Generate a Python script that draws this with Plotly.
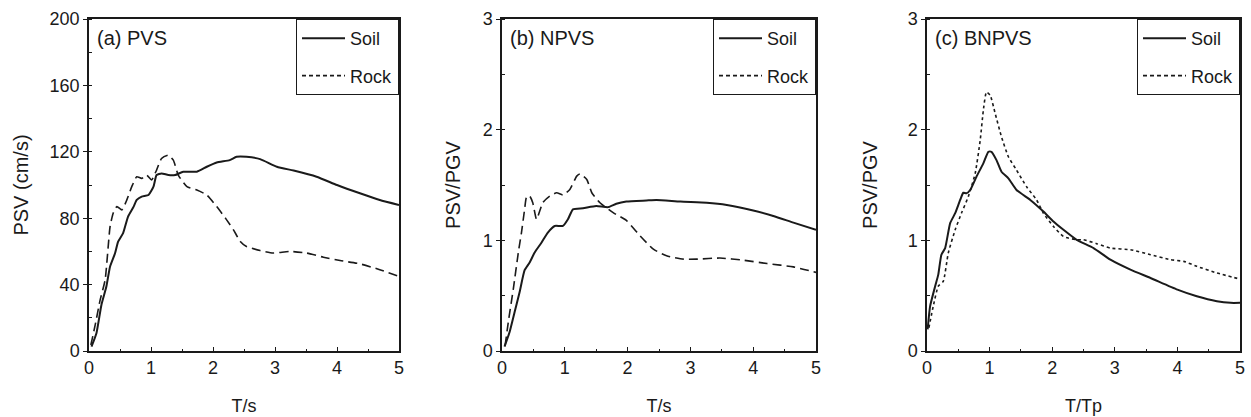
import plotly.graph_objects as go

# ---------------- data ----------------
# (a) PVS
soil_a_t = [0.04, 0.12, 0.2, 0.28, 0.34, 0.42, 0.47, 0.55, 0.63, 0.72, 0.77, 0.85, 0.96, 1.04, 1.09, 1.17,
            1.28, 1.39, 1.52, 1.74, 1.9, 2.06, 2.27, 2.38, 2.54, 2.76, 3.03, 3.3, 3.67, 4.0, 4.37, 4.69, 5.0]
soil_a_v = [2.6, 10.7, 27.7, 38.8, 50.9, 58.9, 65.9, 71, 81, 87, 91, 93, 94, 99, 106, 107,
            106, 106, 108, 108, 111, 113.6, 115, 117, 117, 115.6, 111, 108.7, 105, 100, 95, 91, 88]
rock_a_t = [0.03, 0.1, 0.18, 0.26, 0.34, 0.39, 0.45, 0.53, 0.61, 0.69, 0.77, 0.85, 0.93, 1.01, 1.09, 1.17,
            1.28, 1.36, 1.44, 1.58, 1.74, 1.9, 2.06, 2.22, 2.33, 2.44, 2.54, 2.76, 2.97, 3.24, 3.51, 3.78,
            4.05, 4.37, 4.69, 5.0]
rock_a_v = [3.6, 15.7, 30.8, 42.8, 75, 83, 87, 85, 91, 99, 105, 104, 106, 103, 109, 116,
            118, 115, 106, 99, 97, 94, 87, 79, 73, 66, 63, 60.5, 59, 60, 59, 56.5,
            54.5, 52.5, 49, 45]

# (b) NPVS
soil_b_t = [0.04, 0.12, 0.2, 0.28, 0.36, 0.44, 0.52, 0.63, 0.73, 0.84, 0.97, 1.05, 1.13, 1.29, 1.5, 1.69,
            1.82, 1.98, 2.3, 2.46, 2.84, 3.26, 3.58, 4.0, 4.32, 4.64, 5.0]
soil_b_v = [0.04, 0.17, 0.35, 0.53, 0.73, 0.8, 0.89, 0.98, 1.07, 1.13, 1.13, 1.19, 1.28, 1.29, 1.31, 1.30,
            1.33, 1.35, 1.36, 1.365, 1.35, 1.34, 1.32, 1.27, 1.22, 1.16, 1.095]
rock_b_t = [0.05, 0.1, 0.18, 0.26, 0.31, 0.36, 0.39, 0.44, 0.49, 0.55, 0.65, 0.76, 0.87, 0.97, 1.08, 1.19,
            1.24, 1.35, 1.43, 1.56, 1.77, 1.98, 2.2, 2.41, 2.62, 2.89, 3.1, 3.47, 3.85, 4.22, 4.64, 5.0]
rock_b_v = [0.05, 0.26, 0.56, 0.89, 1.07, 1.28, 1.39, 1.40, 1.34, 1.19, 1.34, 1.40, 1.43, 1.41, 1.46, 1.58,
            1.60, 1.55, 1.43, 1.34, 1.25, 1.18, 1.04, 0.92, 0.86, 0.83, 0.83, 0.84, 0.82, 0.79, 0.76, 0.71]

# (c) BNPVS
soil_c_t = [0.01, 0.05, 0.13, 0.18, 0.23, 0.29, 0.37, 0.45, 0.53, 0.58, 0.63, 0.69, 0.79, 0.9, 0.98, 1.03,
            1.11, 1.19, 1.3, 1.43, 1.65, 1.86, 2.02, 2.18, 2.39, 2.66, 2.93, 3.25, 3.57, 4.0, 4.31, 4.63,
            4.85, 5.0]
soil_c_v = [0.195, 0.405, 0.585, 0.69, 0.87, 0.93, 1.155, 1.245, 1.365, 1.43, 1.425, 1.455, 1.575, 1.695,
            1.80, 1.80, 1.725, 1.62, 1.56, 1.455, 1.365, 1.26, 1.17, 1.095, 1.005, 0.93, 0.825, 0.735,
            0.66, 0.555, 0.495, 0.45, 0.435, 0.435]
rock_c_t = [0.03, 0.1, 0.18, 0.26, 0.34, 0.45, 0.55, 0.66, 0.77, 0.85, 0.9, 0.95, 1.01, 1.09, 1.19, 1.3,
            1.43, 1.59, 1.75, 1.86, 2.02, 2.18, 2.39, 2.5, 2.71, 2.93, 3.25, 3.57, 3.89, 4.1, 4.31, 4.63, 5.0]
rock_c_v = [0.21, 0.405, 0.585, 0.63, 0.885, 1.095, 1.245, 1.395, 1.605, 1.905, 2.175, 2.34, 2.31, 2.145,
            1.935, 1.755, 1.635, 1.485, 1.365, 1.245, 1.125, 1.035, 1.005, 1.005, 0.97, 0.93, 0.915, 0.87,
            0.825, 0.81, 0.765, 0.705, 0.65]

panel_labels = ["(a) PVS", "(b) NPVS", "(c) BNPVS"]
x_titles = ["T/s", "T/s", "T/Tp"]
y_titles = ["PSV (cm/s)", "PSV/PGV", "PSV/PGV"]
series_names = ["Soil", "Rock"]

# ---------------- layout geometry ----------------
W, H = 1251, 417
FONT = "Liberation Sans, Arial, sans-serif"
INK = "#1a1a1a"

x_dom = [(89 / W, 399 / W), (502 / W, 816 / W), (927 / W, 1240 / W)]
y_dom = ((H - 351) / H, (H - 19) / H)
y_ranges = [(0, 200), (0, 3), (0, 3)]
y_dticks = [40, 1, 1]
y_minor = [20, 0.5, 0.5]
rock_dash = ["9px,5px", "9px,5px", "3px,3px"]
ytitle_standoff = [16, 17, 25]

data = [
    (soil_a_t, soil_a_v, rock_a_t, rock_a_v),
    (soil_b_t, soil_b_v, rock_b_t, rock_b_v),
    (soil_c_t, soil_c_v, rock_c_t, rock_c_v),
]

fig = go.Figure()
layout = {}
for i, (st, sv, rt, rv) in enumerate(data):
    n = "" if i == 0 else str(i + 1)
    xa, ya = "x" + n, "y" + n
    leg = "legend" + n
    fig.add_trace(go.Scatter(x=st, y=sv, mode="lines", xaxis=xa, yaxis=ya, showlegend=False,
                             line=dict(color=INK, width=2, shape="spline", smoothing=0.5)))
    fig.add_trace(go.Scatter(x=rt, y=rv, mode="lines", xaxis=xa, yaxis=ya, showlegend=False,
                             line=dict(color=INK, width=1.6, dash=rock_dash[i], shape="spline", smoothing=0.5)))
    # legend entries
    fig.add_trace(go.Scatter(x=[None], y=[None], mode="lines", xaxis=xa, yaxis=ya, name=series_names[0],
                             legend=leg, legendgroup="s" + n, line=dict(color=INK, width=2)))
    fig.add_trace(go.Scatter(x=[None], y=[None], mode="lines", xaxis=xa, yaxis=ya, name=series_names[1],
                             legend=leg, legendgroup="r" + n, line=dict(color=INK, width=1.6, dash="4px,3px")))

    layout["xaxis" + n] = dict(
        domain=list(x_dom[i]), anchor=ya, range=[0, 5], dtick=1, tick0=0,
        showgrid=False, zeroline=False, showline=True, linecolor=INK, linewidth=1.5, mirror=True,
        ticks="inside", ticklen=4, tickwidth=1, tickcolor=INK,
        minor=dict(ticks="inside", dtick=0.5, ticklen=2, tickcolor=INK, showgrid=False),
        tickfont=dict(family=FONT, size=18, color=INK),
        title=dict(text=x_titles[i], font=dict(family=FONT, size=18, color=INK), standoff=22),
        automargin=False, fixedrange=True,
    )
    layout["yaxis" + n] = dict(
        domain=list(y_dom), anchor=xa, range=list(y_ranges[i]), dtick=y_dticks[i], tick0=0,
        showgrid=False, zeroline=False, showline=True, linecolor=INK, linewidth=1.5, mirror=True,
        ticks="outside", ticklen=4, tickwidth=1, tickcolor=INK,
        minor=dict(ticks="inside", dtick=y_minor[i], ticklen=3, tickcolor=INK, showgrid=False),
        tickfont=dict(family=FONT, size=18, color=INK),
        title=dict(text=y_titles[i], font=dict(family=FONT, size=20, color=INK), standoff=ytitle_standoff[i]),
        automargin=False, fixedrange=True,
    )
    layout[leg] = dict(
        x=x_dom[i][1], xanchor="right", y=y_dom[1], yanchor="top",
        bordercolor=INK, borderwidth=1, bgcolor="white",
        font=dict(family=FONT, size=18, color=INK),
        traceorder="grouped", tracegroupgap=11, itemwidth=43,
    )
    fig.add_annotation(text=panel_labels[i], xref=xa + " domain", yref=ya + " domain",
                       x=0.02, y=0.943, xanchor="left", yanchor="middle", showarrow=False,
                       font=dict(family=FONT, size=20, color=INK))

fig.update_layout(
    width=W, height=H, margin=dict(l=0, r=0, t=0, b=0),
    paper_bgcolor="white", plot_bgcolor="white",
    font=dict(family=FONT, size=18, color=INK),
    **layout,
)

fig.write_html("out.html", config={"displayModeBar": False})
